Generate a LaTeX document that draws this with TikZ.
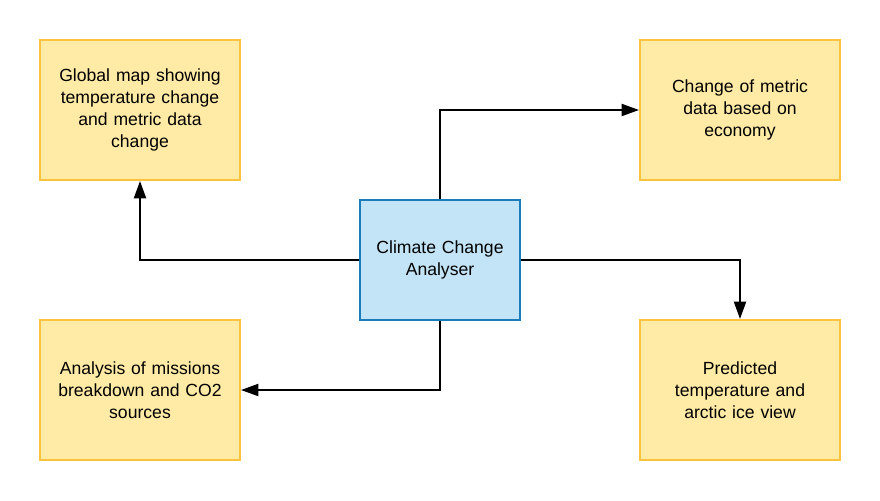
\documentclass[tikz,border=0pt]{standalone}
\usepackage{fontspec}
\setmainfont{Liberation Sans}
\usetikzlibrary{arrows.meta, positioning}

\definecolor{noteFill}{HTML}{FFEBA6}
\definecolor{noteLine}{HTML}{FCC43D}
\definecolor{hubFill}{HTML}{C3E4F6}
\definecolor{hubLine}{HTML}{1A7DBB}

\begin{document}
\begin{tikzpicture}[x=0.75pt, y=-0.75pt,
                    note/.style={draw=noteLine, fill=noteFill, line width=1.5pt,
                                 minimum width=150pt, minimum height=105pt,
                                 text width=145pt, align=center, inner sep=0pt,
                                 font=\fontsize{13.2}{16.5}\selectfont},
                    hub/.style={note, draw=hubLine, fill=hubFill,
                                minimum width=120pt, minimum height=90pt,
                                text width=115pt},
                    link/.style={line width=1.5pt,
                                 -{Triangle[length=13pt, width=9pt]}}
                    ]
    \useasboundingbox (0,0) rectangle (880,500);

    \node[hub]  (hub)   at (440,260) {Climate Change\\Analyser};
    \node[note] (globe) at (140,110) {Global map showing\\temperature change\\and metric data\\change};
    \node[note] (econ)  at (740,110) {Change of metric\\data based on\\economy};
    \node[note] (co2)   at (140,390) {Analysis of missions\\breakdown and CO2\\sources};
    \node[note] (pred)  at (740,390) {Predicted\\temperature and\\arctic ice view};

    \draw[link] (hub.north) |- (econ.west);
    \draw[link] (hub.west) -| (globe.south);
    \draw[link] (hub.east) -| (pred.north);
    \draw[link] (hub.south) |- (co2.east);
\end{tikzpicture}
\end{document}
